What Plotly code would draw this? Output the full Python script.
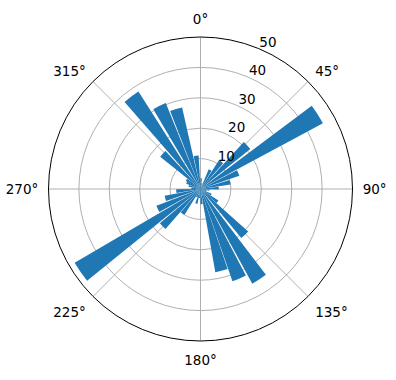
import plotly.graph_objects as go

# angles (degrees, clockwise from north) and bar lengths
theta_deg = [4, 14, 27, 37, 47, 57.5, 67, 77, 87, 97, 107, 117, 127, 136, 147, 156.6, 165.6,
             176, 186, 196, 206, 216, 225.5, 235.3, 245, 255, 265, 275, 285, 295, 303,
             313, 323.2, 333.7, 343, 352.5]
radii = [3.5, 2, 7, 11.3, 21, 45.7, 13.5, 10, 6, 3, 2, 4, 7, 21, 35.5, 32.1, 27.8,
         5, 3, 5, 3, 10, 17.5, 48, 15.5, 12, 8, 3, 4, 5, 5.5,
         17, 38, 30.5, 27.5, 11]
angle_ticks = [0, 45, 90, 135, 180, 225, 270, 315]
angle_labels = [f"{a}°" for a in angle_ticks]
r_ticks = [10, 20, 30, 40, 50]
r_labels = ["10", "20", "30", "40", "50"]

fig = go.Figure(go.Barpolar(
    r=radii, theta=theta_deg, width=[8.6] * len(radii),
    marker=dict(color="#1f77b4", line=dict(width=0)),
))

font = dict(family="DejaVu Sans", size=13.5, color="black")
fig.update_layout(
    width=396, height=380,
    margin=dict(l=48, r=43, t=37, b=39),
    paper_bgcolor="white",
    showlegend=False,
    polar=dict(
        bgcolor="white",
        bargap=0,
        angularaxis=dict(
            rotation=90, direction="clockwise",
            tickmode="array", tickvals=angle_ticks, ticktext=angle_labels,
            showline=True, linecolor="black", linewidth=1,
            gridcolor="#b0b0b0", gridwidth=0.8,
            ticks="outside", ticklen=7, tickcolor="rgba(0,0,0,0)", tickfont=font,
        ),
        radialaxis=dict(
            range=[0, 50], tickmode="array", tickvals=r_ticks,
            ticktext=[t + "<br> " for t in r_labels],
            showline=False, ticks="", angle=70, side="clockwise",
            gridcolor="#b0b0b0", gridwidth=0.8,
            tickfont=font, tickangle=70,
        ),
    ),
)
fig.write_html("out.html")
